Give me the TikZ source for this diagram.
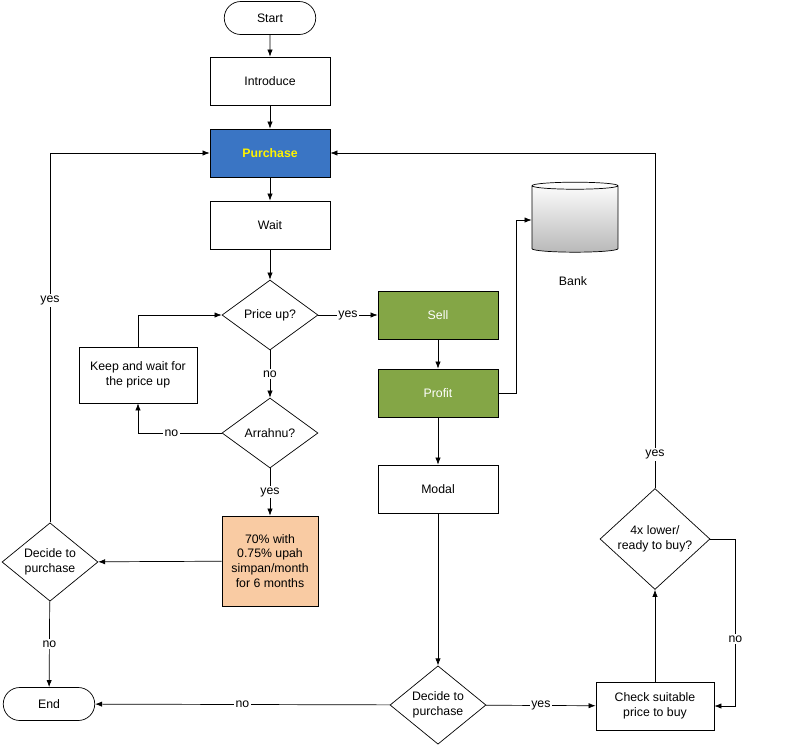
\documentclass[tikz,border=0pt]{standalone}
\usepackage{fontspec}
\setmainfont{Liberation Sans}
\usepackage{tikz}
\usetikzlibrary{shapes.geometric,shapes.misc,arrows.meta,positioning}
\definecolor{buyblue}{HTML}{3A75C4}
\definecolor{sellgreen}{HTML}{84A646}
\definecolor{peach}{HTML}{F9CBA3}
\tikzset{
	base/.style={draw,font=\fontsize{7}{8.5}\selectfont,align=center,inner sep=1pt},
	term/.style={base,rounded rectangle,minimum width=1.9cm,minimum height=0.66cm},
	box/.style={base,rectangle,minimum width=2.4cm,minimum height=0.96cm},
	check/.style={base,diamond,minimum width=1.92cm,minimum height=1.4cm,inner sep=0pt},
	lab/.style={fill=white,font=\fontsize{7}{8.5}\selectfont,inner sep=1pt},
	every path/.style={>={Latex[length=4pt,width=3pt]}}
}
\begin{document}
\begin{tikzpicture}[x=0.02cm,y=-0.02cm]
		\useasboundingbox (0,0) rectangle (806,745);
		% main column
		\node [term] (start) at (270,18) {Start};
		\node [box] (intro) at (270,81) {Introduce};
		\node [box,fill=buyblue,text=yellow,font=\fontsize{7}{8.5}\selectfont\bfseries] (buy) at (270,153) {Purchase};
		\node [box] (wait) at (270,225) {Wait};
		\node [check] (up) at (270,315) {Price up?};
		\node [check] (arr) at (270,433) {Arrahnu?};
		\node [box,fill=peach,minimum height=1.8cm,minimum width=1.92cm] (loan) at (270,561) {70\% with\\0.75\% upah\\simpan/month\\for 6 months};
		\node [box,minimum width=2.36cm,minimum height=1.12cm] (keep) at (138,375) {Keep and wait for\\the price up};
		\node [check] (dleft) at (50,562) {Decide to\\purchase};
		\node [term] (end) at (49,704) {End};
		% sell column
		\node [box,fill=sellgreen,text=white] (sell) at (438,315) {Sell};
		\node [box,fill=sellgreen,text=white] (profit) at (438,393) {Profit};
		\node [box] (modal) at (438,489) {Modal};
		\node [check] (dbot) at (438,705) {Decide to\\purchase};
		\node [cylinder,shape border rotate=90,aspect=0.6,draw,top color=white,bottom color=gray!55,minimum width=1.72cm,minimum height=1.4cm] (bank) at (575,220) {};
		\node [font=\fontsize{7}{8.5}\selectfont] at (573,281) {Bank};
		% buy-back column
		\node [box,minimum width=2.36cm] (suit) at (655,706) {Check suitable\\price to buy};
		\node [check,minimum width=2.2cm,minimum height=1.44cm] (low) at (655,539) {4x lower/\\ready to buy?};
		% connectors
		\draw[->] (start) -- (intro);
		\draw[->] (intro) -- (buy);
		\draw[->] (buy) -- (wait);
		\draw[->] (wait) -- (up);
		\draw[->] (up) -- node[lab] {yes} (sell);
		\draw[->] (up) -- node[lab] {no} (arr);
		\draw[->] (arr.west) -| node[lab,pos=0.3] {no} (keep.south);
		\draw[->] (keep.north) |- (up.west);
		\draw[->] (arr) -- node[lab] {yes} (loan);
		\draw[->] (loan) -- (dleft);
		\draw[->] (dleft.north) |- node[lab,pos=0.3] {yes} (buy.west);
		\draw[->] (dleft) -- node[lab] {no} (end);
		\draw[->] (sell) -- (profit);
		\draw[->] (profit.east) -- ++(18,0) |- (bank.west);
		\draw[->] (profit) -- (modal);
		\draw[->] (modal) -- (dbot);
		\draw[->] (dbot) -- node[lab] {no} (end);
		\draw[->] (dbot) -- node[lab] {yes} (suit);
		\draw[->] (suit) -- (low);
		\draw[->] (low.north) |- node[lab,pos=0.05] {yes} (buy.east);
		\draw[->] (low.east) -- ++(25,0) |- node[lab,pos=0.3] {no} (suit.east);
	\end{tikzpicture}
\end{document}
